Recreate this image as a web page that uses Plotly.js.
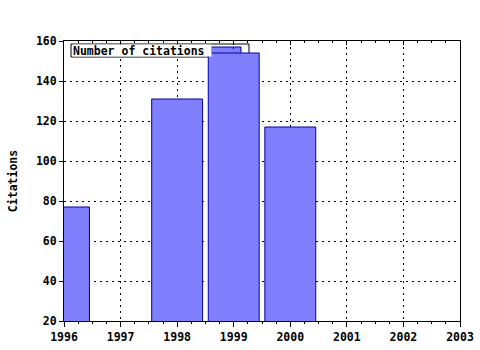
<!DOCTYPE html>
<html>
<head>
<meta charset="utf-8">
<script src="https://cdn.plot.ly/plotly-3.0.1.min.js"></script>
<style>html,body{margin:0;padding:0;background:#fff;}#chart{width:480px;height:350px;}</style>
</head>
<body>
<div id="chart"></div>
<script>
const years = [1996, 1998, 1999, 2000];
const citations = [77, 131, 154, 117];
const seriesName = "Number of citations";
const yTitle = "Citations";
const xTickVals = [1996, 1997, 1998, 1999, 2000, 2001, 2002, 2003];

const font = {family: "DejaVu Sans Mono, monospace", size: 11.5, color: "#000", weight: "bold"};

const trace = {
  type: "bar",
  x: years,
  y: citations,
  name: seriesName,
  width: 0.9,
  marker: {color: "#8080ff", line: {color: "#000099", width: 1}},
  showlegend: false
};
// invisible helper trace to activate the top tick axis
const topTrace = {type: "scatter", mode: "markers", x: [xTickVals[0]], y: [-1000], xaxis: "x2", yaxis: "y", showlegend: false, hoverinfo: "skip", marker: {opacity: 0}};

const layout = {
  width: 480, height: 350,
  margin: {l: 64, r: 20, t: 41, b: 29},
  paper_bgcolor: "#fff", plot_bgcolor: "#fff",
  font: font,
  showlegend: false,
  xaxis: {
    range: [1996, 2003],
    tickvals: xTickVals,
    ticktext: xTickVals.map(String),
    showline: true, linecolor: "#000", linewidth: 1, mirror: true,
    ticks: "outside", ticklen: 5, tickcolor: "#000",
    showgrid: true, gridcolor: "#000", griddash: "2px,4px", gridwidth: 1,
    minor: {dtick: 0.25, tick0: 1996, ticks: "outside", ticklen: 2, tickcolor: "#000", showgrid: false},
    zeroline: false, fixedrange: true,
    tickfont: font
  },
  xaxis2: {
    overlaying: "x", side: "top", anchor: "y",
    range: [1996, 2003],
    tickvals: xTickVals,
    showticklabels: false, showline: false, showgrid: false, zeroline: false,
    ticks: "inside", ticklen: 4, tickcolor: "#000",
    minor: {dtick: 0.25, tick0: 1996, ticks: "inside", ticklen: 2, tickcolor: "#000", showgrid: false},
    fixedrange: true
  },
  yaxis: {
    range: [20, 160],
    dtick: 20, tick0: 20,
    showline: true, linecolor: "#000", linewidth: 1, mirror: true,
    ticks: "outside", ticklen: 4, tickcolor: "#000",
    showgrid: true, gridcolor: "#000", griddash: "2px,4px", gridwidth: 1,
    zeroline: false, fixedrange: true,
    tickfont: font,
    title: {text: yTitle, font: font, standoff: 15}
  },
  shapes: [
    {type: "rect", xref: "paper", yref: "paper", x0: 7/396, x1: 185/396, y0: 1 - 16/280, y1: 1 - 3/280,
     line: {color: "#000", width: 1}, fillcolor: "#fff", layer: "below"},
    {type: "rect", xref: "paper", yref: "paper", x0: 147/396, x1: 177/396, y0: 1 - 16/280, y1: 1 - 6/280,
     line: {color: "#000099", width: 1}, fillcolor: "#8080ff", layer: "below"}
  ],
  annotations: [
    {xref: "paper", yref: "paper", x: 7.5/396, y: 1 - 9.5/280, xanchor: "left", yanchor: "middle",
     text: seriesName, showarrow: false, font: font,
     bgcolor: "#fff", borderpad: 0, width: 138, height: 11, align: "left"}
  ]
};

Plotly.newPlot("chart", [trace, topTrace], layout, {staticPlot: true, displayModeBar: false});
</script>
</body>
</html>
